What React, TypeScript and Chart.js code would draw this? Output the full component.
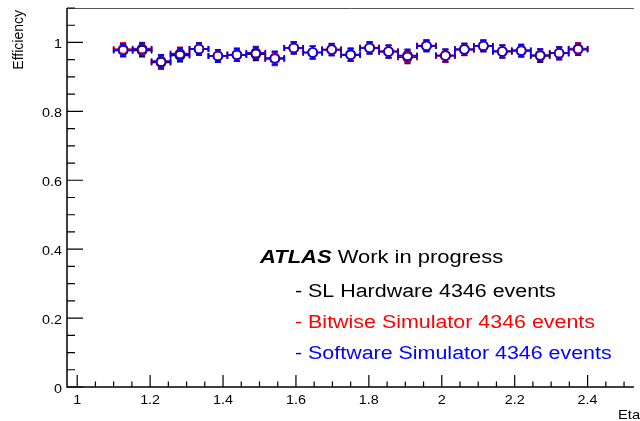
import React, { useEffect, useRef } from "react";
import { Chart, registerables } from "chart.js";

Chart.register(...registerables);

// ---- data ----
const etaCenters = [
  1.126, 1.178, 1.23, 1.282, 1.334, 1.386, 1.438, 1.49, 1.542, 1.594, 1.646, 1.698, 1.75,
  1.802, 1.854, 1.906, 1.958, 2.01, 2.062, 2.114, 2.166, 2.218, 2.27, 2.322, 2.374,
];
const etaHalfWidth = 0.026;

const hardwareEff = [
  0.978, 0.977, 0.942, 0.962, 0.981, 0.961, 0.964, 0.966, 0.953, 0.984, 0.971, 0.979, 0.964,
  0.984, 0.973, 0.957, 0.99, 0.962, 0.98, 0.99, 0.974, 0.975, 0.961, 0.969, 0.98,
];
const bitwiseEff = [
  0.981, 0.982, 0.945, 0.968, 0.981, 0.961, 0.964, 0.97, 0.952, 0.984, 0.971, 0.98, 0.965,
  0.985, 0.974, 0.96, 0.991, 0.961, 0.979, 0.99, 0.974, 0.977, 0.963, 0.969, 0.982,
];
const softwareEff = [
  0.977, 0.98, 0.945, 0.966, 0.981, 0.961, 0.964, 0.969, 0.955, 0.984, 0.971, 0.979, 0.964,
  0.984, 0.974, 0.962, 0.99, 0.962, 0.98, 0.99, 0.974, 0.977, 0.963, 0.969, 0.98,
];
const effErr = [
  0.018, 0.018, 0.019, 0.018, 0.017, 0.018, 0.018, 0.018, 0.019, 0.017, 0.018, 0.017, 0.018,
  0.017, 0.018, 0.018, 0.016, 0.018, 0.017, 0.016, 0.018, 0.017, 0.018, 0.018, 0.017,
];

const xTicks = [1, 1.2, 1.4, 1.6, 1.8, 2, 2.2, 2.4];
const xTickLabels = ["1", "1.2", "1.4", "1.6", "1.8", "2", "2.2", "2.4"];
const yTicks = [0, 0.2, 0.4, 0.6, 0.8, 1];
const yTickLabels = ["0", "0.2", "0.4", "0.6", "0.8", "1"];

const seriesNames = ["SL Hardware", "Bitwise Simulator", "Software Simulator"];
const seriesColors = ["#000000", "#ff0000", "#0000ff"];
const legendLines = [
  "- SL Hardware 4346 events",
  "- Bitwise Simulator 4346 events",
  "- Software Simulator 4346 events",
];

const FONT = "'Liberation Sans', Arial, Helvetica, sans-serif";

function drawText(
  ctx: CanvasRenderingContext2D,
  text: string,
  x: number,
  y: number,
  font: string,
  color: string,
  align: CanvasTextAlign,
  sx: number,
  baseline: CanvasTextBaseline = "alphabetic"
) {
  ctx.save();
  ctx.translate(x, y);
  ctx.scale(sx, 1);
  ctx.font = font;
  ctx.fillStyle = color;
  ctx.textAlign = align;
  ctx.textBaseline = baseline;
  ctx.fillText(text, 0, 0);
  const w = ctx.measureText(text).width * sx;
  ctx.restore();
  return w;
}

const errorBarPlugin = {
  id: "rootErrorBars",
  beforeDatasetDraw(chart: any, args: any) {
    const ds = chart.data.datasets[args.index];
    const xs = chart.scales.x;
    const ys = chart.scales.y;
    const ctx: CanvasRenderingContext2D = chart.ctx;
    const vals: number[] = ds.effValues;
    const r = 4.5;
    const cap = 3;
    ctx.save();
    ctx.strokeStyle = ds.borderColor;
    ctx.lineWidth = 1.6;
    ctx.beginPath();
    etaCenters.forEach((eta, i) => {
      const v = vals[i];
      const px = xs.getPixelForValue(eta);
      const py = ys.getPixelForValue(v);
      const xl = xs.getPixelForValue(eta - etaHalfWidth);
      const xr = xs.getPixelForValue(eta + etaHalfWidth);
      const yt = ys.getPixelForValue(v + effErr[i]);
      const yb = ys.getPixelForValue(v - effErr[i]);
      ctx.moveTo(xl, py);
      ctx.lineTo(px - r, py);
      ctx.moveTo(px + r, py);
      ctx.lineTo(xr, py);
      ctx.moveTo(xl, py - cap);
      ctx.lineTo(xl, py + cap);
      ctx.moveTo(xr, py - cap);
      ctx.lineTo(xr, py + cap);
      if (yt < py - r) {
        ctx.moveTo(px, py - r);
        ctx.lineTo(px, yt);
        ctx.moveTo(px - cap, yt);
        ctx.lineTo(px + cap, yt);
      }
      if (yb > py + r) {
        ctx.moveTo(px, py + r);
        ctx.lineTo(px, yb);
        ctx.moveTo(px - cap, yb);
        ctx.lineTo(px + cap, yb);
      }
    });
    ctx.stroke();
    ctx.restore();
  },
};

const framePlugin = {
  id: "rootFrame",
  afterDraw(chart: any) {
    const ctx: CanvasRenderingContext2D = chart.ctx;
    const { left, right, top, bottom } = chart.chartArea;
    const xs = chart.scales.x;
    const ys = chart.scales.y;
    ctx.save();
    // top frame line
    ctx.strokeStyle = "#555555";
    ctx.lineWidth = 1;
    ctx.beginPath();
    ctx.moveTo(left, top + 0.5);
    ctx.lineTo(right, top + 0.5);
    ctx.stroke();
    // axes
    ctx.strokeStyle = "#000000";
    ctx.lineWidth = 1.5;
    ctx.beginPath();
    ctx.moveTo(left, top);
    ctx.lineTo(left, bottom);
    ctx.lineTo(right, bottom);
    ctx.stroke();

    // y ticks
    ctx.lineWidth = 1.2;
    ctx.beginPath();
    for (let k = 0; k <= 22; k++) {
      const v = k * 0.05;
      if (v > ys.max + 1e-9) break;
      const py = ys.getPixelForValue(v);
      const major = k % 4 === 0;
      ctx.moveTo(left, py);
      ctx.lineTo(left + (major ? 16 : 8), py);
    }
    // x ticks
    for (let k = 0; k <= 40; k++) {
      const v = 0.8 + k * 0.05;
      if (v < xs.min - 1e-9 || v > xs.max + 1e-9) continue;
      const px = xs.getPixelForValue(v);
      const major = k % 4 === 0;
      ctx.moveTo(px, bottom);
      ctx.lineTo(px, bottom - (major ? 12 : 5.5));
    }
    ctx.stroke();

    // tick labels
    const tickFont = `12.5px ${FONT}`;
    xTicks.forEach((v, i) => {
      drawText(ctx, xTickLabels[i], xs.getPixelForValue(v), 403.5, tickFont, "#000", "center", 1.15);
    });
    yTicks.forEach((v, i) => {
      drawText(ctx, yTickLabels[i], 62, ys.getPixelForValue(v) + 6, tickFont, "#000", "right", 1.15);
    });

    // axis titles
    ctx.save();
    ctx.translate(23, 10);
    ctx.rotate(-Math.PI / 2);
    ctx.font = `14px ${FONT}`;
    ctx.fillStyle = "#000";
    ctx.textAlign = "right";
    ctx.textBaseline = "alphabetic";
    ctx.fillText("Efficiency", 0, 0);
    ctx.restore();
    drawText(ctx, "Eta", 618, 419, `13px ${FONT}`, "#000", "left", 1.13);

    // ATLAS label and legend lines
    const w = drawText(ctx, "ATLAS", 260, 263, `italic bold 18px ${FONT}`, "#000", "left", 1.22);
    drawText(ctx, " Work in progress", 260 + w, 263, `18px ${FONT}`, "#000", "left", 1.22);
    const baselines = [297, 328, 359];
    legendLines.forEach((t, i) => {
      drawText(ctx, t, 295, baselines[i], `18px ${FONT}`, seriesColors[i], "left", 1.19);
    });
    ctx.restore();
  },
};

export default function App() {
  const canvasRef = useRef<HTMLCanvasElement | null>(null);

  useEffect(() => {
    const canvas = canvasRef.current;
    if (!canvas) return;
    const series = [hardwareEff, bitwiseEff, softwareEff];
    const chart = new Chart(canvas, {
      type: "scatter",
      data: {
        datasets: series.map((vals, s) => ({
          label: seriesNames[s],
          data: etaCenters.map((eta, i) => ({ x: eta, y: vals[i] })),
          effValues: vals,
          borderColor: seriesColors[s],
          backgroundColor: "rgba(0,0,0,0)",
          pointRadius: 4.5,
          pointBorderWidth: 1.6,
          pointStyle: "circle",
          showLine: false,
          order: 3 - s,
        })) as any,
      },
      options: {
        animation: false,
        responsive: false,
        maintainAspectRatio: false,
        devicePixelRatio: 1,
        layout: { padding: { left: 67, top: 8, right: 0, bottom: 34 } },
        plugins: { legend: { display: false }, tooltip: { enabled: false } },
        events: [],
        scales: {
          x: { type: "linear", display: false, min: 0.972, max: 2.527 },
          y: { type: "linear", display: false, min: 0, max: 1.1 },
        },
      },
      plugins: [errorBarPlugin, framePlugin],
    });
    return () => chart.destroy();
  }, []);

  return (
    <div style={{ position: "fixed", left: 0, top: 0, width: 640, height: 421, background: "#fff" }}>
      <canvas ref={canvasRef} width={640} height={421} style={{ display: "block" }} />
    </div>
  );
}
